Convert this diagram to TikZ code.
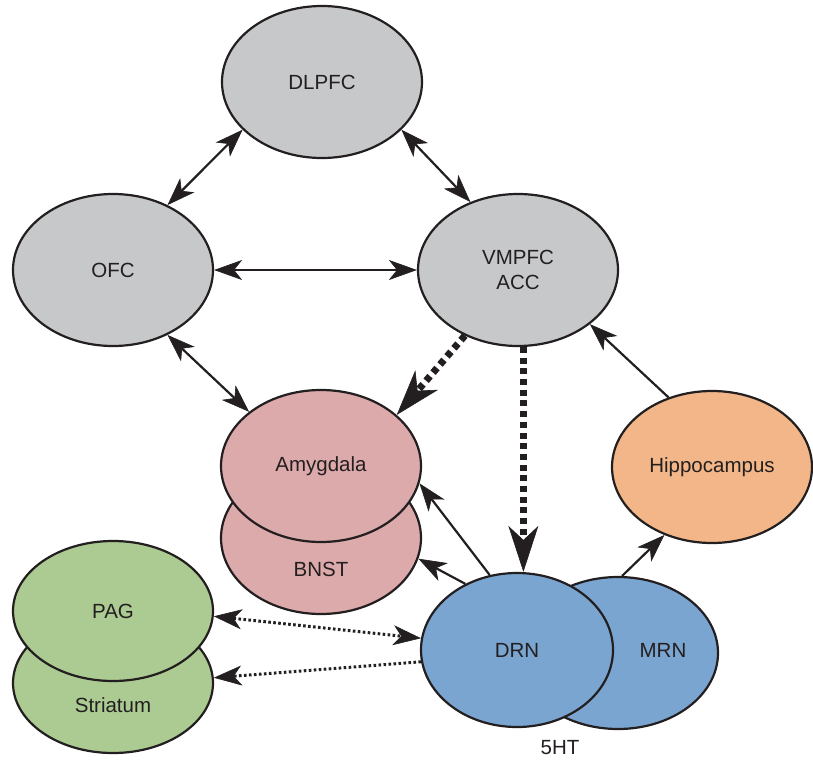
\documentclass[tikz,border=0pt]{standalone}
\usepackage{fontspec}
\setmainfont{Liberation Sans}
\usetikzlibrary{shapes.geometric,arrows.meta}
\definecolor{ink}{HTML}{231F20}
\definecolor{cgray}{HTML}{C7C8CA}
\definecolor{cpink}{HTML}{DCAAAB}
\definecolor{cgreen}{HTML}{ACCB92}
\definecolor{cblue}{HTML}{7BA5D1}
\definecolor{corange}{HTML}{F2B688}
\tikzset{
  x=1pt, y=-1pt,
  region/.style={ellipse, draw=ink, line width=2.2pt, minimum width=200pt, minimum height=152pt,
    inner sep=0pt, font=\fontsize{20.5}{25}\selectfont, text=ink, align=center},
  lbl/.style={font=\fontsize{20.5}{25}\selectfont, text=ink},
  thintip/.tip={Stealth[length=28pt,width=20pt,inset=8pt,line width=0.6pt]},
  thicktip/.tip={Stealth[length=46pt,width=30pt,inset=14pt,line width=0.6pt]},
  link/.style={draw=ink, line width=2.2pt},
  finedot/.style={draw=ink, line width=3pt, dash pattern=on 2.6pt off 2.4pt},
  thickdot/.style={draw=ink, line width=7pt, dash pattern=on 6pt off 4.7pt},
}
\begin{document}
\begin{tikzpicture}
\useasboundingbox (0,0) rectangle (813,763);
% back ellipses
\node[region, fill=cpink, label={[lbl, yshift=-31pt]center:BNST}] (bnst) at (321,538) {};
\node[region, fill=cgreen, minimum height=140pt, label={[lbl, yshift=-22pt]center:Striatum}] (str) at (113,683) {};
\node[region, fill=cblue, label={[lbl, xshift=45pt, yshift=3pt]center:MRN}] (mrn) at (618,653) {};
% front ellipses
\node[region, fill=cgray] (dl) at (322,82) {DLPFC};
\node[region, fill=cgray] (ofc) at (113,270) {OFC};
\node[region, fill=cgray] (vm) at (518,270) {VMPFC\\ACC};
\node[region, fill=cpink] (amy) at (321,466) {Amygdala};
\node[region, fill=cgreen, minimum height=140pt] (pag) at (113,611) {PAG};
\node[region, fill=cblue, minimum width=192pt, minimum height=154pt] (drn) at (517,650) {DRN};
\node[region, fill=corange] (hip) at (712,467) {Hippocampus};
\node[lbl] (ht) at (560,748) {5HT};
% connectors
\draw[link, thintip-thintip] (dl.211) -- (ofc.50);
\draw[link, thintip-thintip] (dl.329) -- (vm.125);
\draw[link, thintip-thintip] (ofc.east) -- (vm.west);
\draw[link, thintip-thintip] (ofc.310) -- (amy.143.5);
\draw[thickdot, -thicktip] (vm.231) -- (amy.34.5);
\draw[thickdot, -thicktip] (vm.274) -- (vm.274 |- drn.north);
\draw[link, -thintip] (hip.122) -- (vm.323.5);
\draw[link, -thintip] (drn.110) -- (amy.350);
\draw[link, -thintip] (drn.128) -- (bnst.348.5);
\draw[link, -thintip] (mrn.87) -- (hip.235.5);
\draw[finedot, thintip-thintip] (pag.357) -- (drn.173.5);
\draw[finedot, -thintip] (drn.187.8) -- (str.3);
\end{tikzpicture}
\end{document}
